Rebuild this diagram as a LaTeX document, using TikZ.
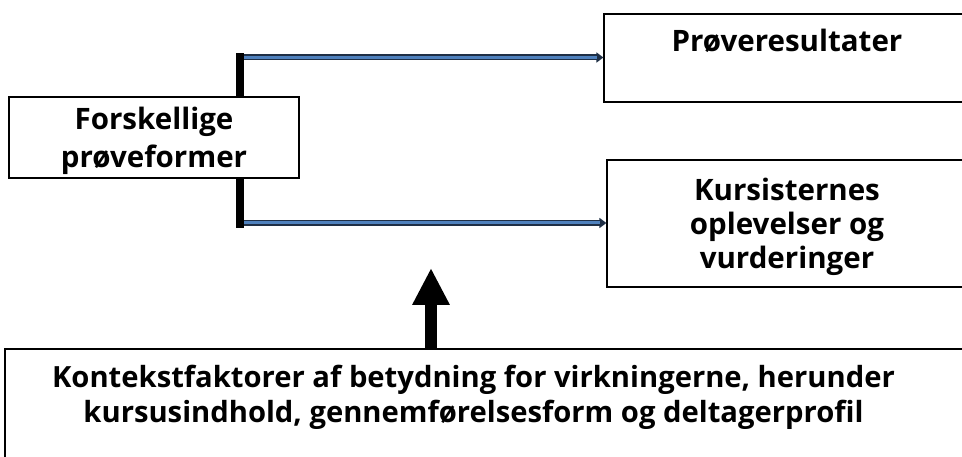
\documentclass[tikz,border=0pt]{standalone}
\usepackage{fontspec}
\setmainfont{Open Sans}
\usetikzlibrary{arrows.meta}
\definecolor{arrowblue}{HTML}{4F81BD}
\definecolor{arrowedge}{HTML}{1F2F45}

\begin{document}
\begin{tikzpicture}[
        x = 1pt, y = -1pt,
        box/.style = {
            draw,
            line width = 1.2pt,
            fill = white,
            inner sep = 0pt,
            align = center,
            font = \bfseries\fontsize{29.5}{#1}\selectfont
        },
        box/.default = 35,
        conn/.style = {
            draw = arrowblue,
            line width = 3pt,
            shorten > = 6pt,
            preaction = {draw = arrowedge, line width = 6pt, shorten > = 0pt,
                         -{Triangle[length=7pt, width=10pt]}}
        },
        bar/.style = {line width = 8pt, line cap = rect},
        lift/.style = {line width = 12pt, -{Triangle[length=37pt, width=35pt]}}
        ]
        \path[use as bounding box, clip] (0,0) rectangle (962,457);
%
        \coordinate (top) at (240,57.5);
        \coordinate (bot) at (240,223);
        \coordinate (tip) at (431,268);
%
        \node[box, minimum width=366, minimum height=88, text depth=36.4pt] (res) at (787,58) {Prøveresultater};
        \node[box=34, minimum width=360, minimum height=127, text depth=-8.6pt] (exp) at (787,223.5)
                {Kursisternes\\oplevelser og\\vurderinger};
        \node[box, minimum width=970, minimum height=142] (ctx) at (490,420) {};
        \node[align=center, inner sep=0pt, font=\bfseries\fontsize{29.2}{35}\selectfont] (ctxtext) at (473.5,397)
                {Kontekstfaktorer af betydning for virkningerne, herunder\\kursusindhold, gennemførelsesform og deltagerprofil};
%
        \draw[conn] (top) -- (top -| res.west);
        \draw[conn] (bot) -- (bot -| exp.west);
        \draw[bar] (top) -- ([yshift=-1pt]bot);
%
        \node[box=38, minimum width=290, minimum height=81, text depth=-16.6pt] (src) at (154,137.5)
                {Forskellige\\prøveformer};
%
        \draw[lift] (tip |- ctx.north) -- (tip);
    \end{tikzpicture}
\end{document}
